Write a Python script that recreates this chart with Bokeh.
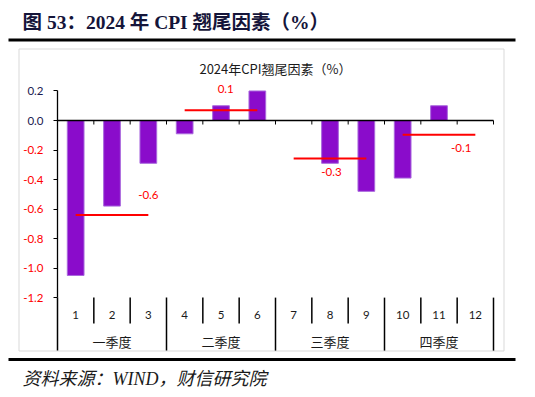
from bokeh.plotting import figure
from bokeh.models import FixedTicker, LinearAxis, ColumnDataSource, Range1d
from bokeh.embed import file_html
from bokeh.resources import INLINE
from bokeh.core.properties import value

# ---------------- data ----------------
months = ["1", "2", "3", "4", "5", "6", "7", "8", "9", "10", "11", "12"]
cpi_carry = [-1.05, -0.58, -0.29, -0.09, 0.10, 0.20, 0.00, -0.29, -0.48, -0.39, 0.10, 0.00]
quarters = ["一季度", "二季度", "三季度", "四季度"]
y_ticks = [0.2, 0.0, -0.2, -0.4, -0.6, -0.8, -1.0, -1.2]
chart_title = "2024年CPI翘尾因素（%）"
fig_title = "图 53：2024 年 CPI 翘尾因素（%）"
source_note = "资料来源：WIND，财信研究院"

# ---------------- styles / layout (pixels) ----------------
BAR = "#8A0CCB"
BAR_EDGE = "#A968DD"
RED = "#FF0000"
LAT = "Lato, 'Noto Sans CJK SC', sans-serif"
CJK = "'Noto Sans CJK SC', Lato, sans-serif"
SERIF = "'Liberation Serif', 'Noto Sans CJK SC', serif"

W, H = 527, 389            # canvas size
OFF = 0                    # page offset of the canvas
X0_PX, X12_PX = 57, 493    # category axis extent on page
Y_ZERO_PX = 120            # page y of value 0
PY = 147.6                 # pixels per value unit
n = len(months)
XS = (X12_PX - X0_PX) / n  # pixels per category


def px2x(px):
    return (px - X0_PX) / XS


def py2y(py):
    return (Y_ZERO_PX - py) / PY


p = figure(width=W, height=H,
           x_range=Range1d(px2x(OFF), px2x(OFF + W)),
           y_range=Range1d(py2y(OFF + H), py2y(OFF)),
           output_backend="svg", toolbar_location=None, x_axis_type=None,
           min_border=0, min_border_left=0, min_border_right=0,
           min_border_top=0, min_border_bottom=0,
           background_fill_color="white", border_fill_color="white")
p.outline_line_color = None
p.grid.visible = False

ymin_axis, ymax_axis = min(y_ticks), max(y_ticks)

# main value axis (black labels for non-negative values)
ya = p.yaxis[0]
ya.fixed_location = 0
ya.ticker = FixedTicker(ticks=y_ticks, minor_ticks=[])
ya.bounds = (ymin_axis, ymax_axis)
ya.major_label_overrides = {t: ("%.1f" % t if t >= 0 else "") for t in y_ticks}
ya.major_tick_out = 4
ya.major_tick_in = 0
ya.major_label_standoff = 10
ya.axis_line_color = "black"
ya.axis_line_width = 1.3
ya.major_tick_line_color = "black"
ya.major_label_text_font = LAT
ya.major_label_text_font_size = "11.5px"
ya.major_label_text_color = "#1a1a50"

# second value axis at the same place, carrying the red negative labels
ya2 = LinearAxis(fixed_location=0, ticker=FixedTicker(ticks=y_ticks, minor_ticks=[]),
                 bounds=(ymin_axis, ymax_axis),
                 major_label_overrides={t: ("%.1f" % t if t < 0 else "") for t in y_ticks},
                 major_tick_out=4, major_tick_in=0, major_label_standoff=10,
                 axis_line_color=None, major_tick_line_color=None, minor_tick_line_color=None,
                 major_label_text_font=LAT, major_label_text_font_size="11.5px",
                 major_label_text_color=RED)
p.add_layout(ya2, "left")

# ---------------- decorations: caption, rules, chart box ----------------
p.text(x=[px2x(22)], y=[py2y(22)], text=[fig_title], text_align="left", text_baseline="middle",
       text_color="#15153a", text_font=value(SERIF), text_font_size="19.5px", text_font_style="bold")
p.segment(x0=[px2x(8), px2x(8)], y0=[py2y(39.5), py2y(359)],
          x1=[px2x(515), px2x(515)], y1=[py2y(39.5), py2y(359)],
          line_color="black", line_width=3)
p.quad(left=[px2x(18.5)], right=[px2x(503.5)], top=[py2y(48.5)], bottom=[py2y(350.5)],
       fill_color=None, line_color="#d9d9d9", line_width=1)
p.text(x=[px2x(22)], y=[py2y(378)], text=[source_note], text_align="left", text_baseline="middle",
       text_color="#1a1a1a", text_font=value(SERIF), text_font_size="18px", text_font_style="italic")
p.text(x=[n / 2], y=[py2y(68)], text=[chart_title], text_align="center", text_baseline="middle",
       text_color="#1a1a1a", text_font=value(CJK), text_font_size="13px")

# ---------------- bars ----------------
xc = [i + 0.5 for i in range(n)]
src = ColumnDataSource(dict(x=xc, top=cpi_carry, m=months))
p.vbar(x="x", top="top", bottom=0, width=0.46, source=src,
       fill_color=BAR, line_color=BAR_EDGE, line_width=1)

# zero line with downward ticks at category boundaries
p.segment(x0=[0], y0=[0], x1=[n], y1=[0], line_color="black", line_width=1.3)
bx = list(range(n + 1))
p.segment(x0=bx, y0=[0] * len(bx), x1=bx, y1=[-4 / PY] * len(bx), line_color="black", line_width=1)

# ---------------- quarterly averages ----------------
q_avg = [sum(cpi_carry[3 * q:3 * q + 3]) / 3 for q in range(4)]
p.segment(x0=[3 * q + 0.5 for q in range(4)], y0=q_avg, x1=[3 * q + 2.5 for q in range(4)], y1=q_avg,
          line_color=RED, line_width=2)
lab_dx = [2.5, 1.63, 1.54, 2.11]        # label x, in categories from quarter start
lab_dy = [20, 21, -14, -13]             # label y offset, px
p.text(x=[3 * q + lab_dx[q] for q in range(4)],
       y=[q_avg[q] + lab_dy[q] / PY for q in range(4)],
       text=["%.1f" % round(v, 1) for v in q_avg],
       text_align="center", text_baseline="middle", text_color=RED,
       text_font=value(LAT), text_font_size="11.5px")

# ---------------- category axis (months / quarters) ----------------
sep_m = [i for i in range(1, n) if i % 3 != 0]
sep_q = list(range(0, n + 1, 3))
p.segment(x0=sep_m, y0=[ymin_axis] * len(sep_m), x1=sep_m, y1=[ymin_axis - 26 / PY] * len(sep_m),
          line_color="black", line_width=1.5)
p.segment(x0=sep_q, y0=[ymin_axis] * len(sep_q), x1=sep_q, y1=[ymin_axis - 53 / PY] * len(sep_q),
          line_color="black", line_width=1.5)
p.text(x=xc, y=[ymin_axis - 17 / PY] * n, text=months, text_align="center", text_baseline="middle",
       text_color="#1a1a1a", text_font=value(LAT), text_font_size="11.5px")
p.text(x=[3 * q + 1.5 for q in range(4)], y=[ymin_axis - 43.5 / PY] * 4, text=quarters,
       text_align="center", text_baseline="middle", text_color="#1a1a1a",
       text_font=value(CJK), text_font_size="13px")

open("out.html", "w").write(file_html(p, INLINE))
